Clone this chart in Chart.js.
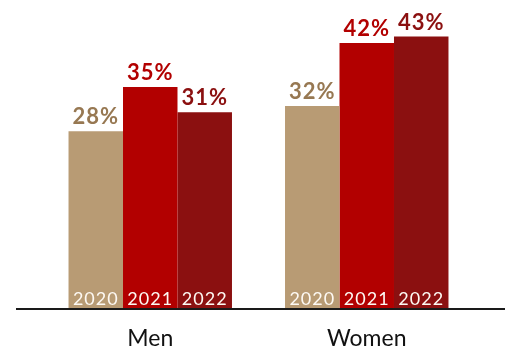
<!DOCTYPE html>
<html>
<head>
<meta charset="utf-8">
<script src="https://cdn.jsdelivr.net/npm/chart.js@4"></script>
<style>
  html, body { margin: 0; padding: 0; background: #fff; }
  #wrap { width: 505px; height: 349px; position: relative; }
</style>
</head>
<body>
<div id="wrap"><canvas id="mybarchart"></canvas></div>
<script>
// data
const groups = ['Men', 'Women']
const years = ['2020', '2021', '2022']
const men = [28, 35, 31]
const women = [32, 42, 43]
const barColors = ['#b89b74', '#b20000', '#8b1010']
const labelColors = ['#977852', '#b20000', '#8b1010']

const FONT = "Lato, 'Open Sans', sans-serif"

// value on top + year inside bottom of each bar
const barLabels = {
    id: 'barLabels',
    afterDatasetsDraw(chart) {
        const ctx = chart.ctx
        const bottom = chart.scales.y.getPixelForValue(0)
        ctx.save()
        ctx.textAlign = 'center'
        chart.data.datasets.forEach(function(ds, i) {
            chart.getDatasetMeta(i).data.forEach(function(bar, j) {
                ctx.fillStyle = labelColors[i]
                ctx.font = "bold 22px " + FONT
                ctx.letterSpacing = '1px'
                ctx.textBaseline = 'alphabetic'
                ctx.fillText(ds.data[j] + '%', bar.x, bar.y - 7)
                ctx.fillStyle = '#fdf9f3'
                ctx.font = "18px " + FONT
                ctx.letterSpacing = '1px'
                ctx.fillText(ds.label, bar.x, bottom - 3)
            })
        })
        ctx.restore()
    }
}

// base line running the full width
const baseLine = {
    id: 'baseLine',
    afterDatasetsDraw(chart) {
        const ctx = chart.ctx
        const y = chart.scales.y.getPixelForValue(0)
        ctx.save()
        ctx.strokeStyle = '#1a1a1a'
        ctx.lineWidth = 2
        ctx.beginPath()
        ctx.moveTo(16, y + 1)
        ctx.lineTo(chart.width, y + 1)
        ctx.stroke()
        ctx.restore()
    }
}

const datasets = years.map(function(yr, i) {
    return {
        label: yr,
        data: [men[i], women[i]],
        backgroundColor: barColors[i],
        borderWidth: 0,
        barPercentage: 1.0,
        categoryPercentage: 0.755
    }
})

new Chart(document.getElementById('mybarchart'), {
    type: 'bar',
    data: { labels: groups, datasets: datasets },
    options: {
        responsive: true,
        maintainAspectRatio: false,
        animation: false,
        layout: { padding: { left: 42, right: 30, top: 0, bottom: -20 } },
        plugins: { legend: { display: false }, tooltip: { enabled: false } },
        scales: {
            x: {
                grid: { display: false, drawTicks: false },
                border: { display: false },
                ticks: {
                    color: '#111',
                    padding: 19,
                    font: { family: FONT, size: 23, lineHeight: 1 }
                }
            },
            y: {
                display: false,
                min: 0,
                max: 48.8
            }
        }
    },
    plugins: [barLabels, baseLine]
})
</script>
</body>
</html>
